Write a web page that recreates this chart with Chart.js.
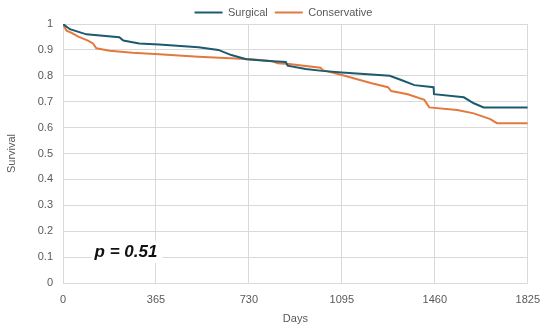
<!DOCTYPE html>
<html>
<head>
  <title>Survival</title>
  <script src="https://cdn.jsdelivr.net/npm/chart.js"></script>
  <style>
    body { margin: 0; background: #fff; }
    #wrap { width: 550px; height: 330px; }
  </style>
</head>
<body>
<div id="wrap"><canvas id="survChart" width="550" height="330"></canvas></div>

<script>
  // values
  const xTicks = [0, 365, 730, 1095, 1460, 1825];

  const surgicalDays = [0, 27, 92, 221, 237, 299, 377, 532, 610, 661, 720, 823, 875, 882, 953, 1017, 1095, 1283, 1328, 1380, 1455, 1457, 1574, 1613, 1652, 1825];
  const surgicalSurv = [1.0, 0.98, 0.96, 0.949, 0.936, 0.925, 0.921, 0.91, 0.9, 0.88, 0.864, 0.856, 0.853, 0.839, 0.826, 0.819, 0.813, 0.8, 0.784, 0.764, 0.756, 0.729, 0.717, 0.694, 0.678, 0.678];

  const conservDays = [0, 14, 34, 60, 98, 118, 131, 183, 273, 377, 532, 739, 823, 843, 888, 1011, 1020, 1095, 1212, 1276, 1289, 1354, 1419, 1438, 1548, 1613, 1678, 1704, 1825];
  const conservSurv = [1.0, 0.974, 0.966, 0.951, 0.936, 0.925, 0.906, 0.897, 0.889, 0.883, 0.874, 0.864, 0.856, 0.848, 0.846, 0.831, 0.822, 0.803, 0.771, 0.756, 0.741, 0.729, 0.707, 0.678, 0.668, 0.655, 0.633, 0.617, 0.617];

  const pLabel = 'p = 0.51';
  const pAt = { x: 124, y: 0.12 };

  function toPoints(xs, ys) {
    return xs.map((x, i) => ({ x: x, y: ys[i] }));
  }

  const gridColor = '#d9d9d9';
  const textColor = '#595959';
  const fontFamily = '"Liberation Sans", Arial, sans-serif';

  // keep the legend strip thin like the original, and nudge it right
  const legendHeight = {
    id: 'legendHeight',
    afterInit(chart) {
      const lg = chart.legend;
      if (!lg) return;
      const fit = lg.fit;
      lg.fit = function () {
        fit.call(this);
        this.height = 24;
      };
    },
    afterLayout(chart) {
      const lg = chart.legend;
      if (!lg) return;
      lg.left += 17;
      lg.right += 17;
    }
  };

  // the p value box sits on top of the grid
  const pValue = {
    id: 'pValue',
    beforeDatasetsDraw(chart) {
      const ctx = chart.ctx;
      const x = chart.scales.x.getPixelForValue(pAt.x);
      const y = chart.scales.y.getPixelForValue(pAt.y);
      ctx.save();
      ctx.font = 'italic bold 17px ' + fontFamily;
      const w = ctx.measureText(pLabel).width;
      ctx.fillStyle = '#fff';
      ctx.fillRect(x - 3, y - 11, w + 8, 22);
      ctx.fillStyle = '#111';
      ctx.textBaseline = 'middle';
      ctx.fillText(pLabel, x, y);
      ctx.restore();
    }
  };

  const ctx = document.getElementById('survChart').getContext('2d');
  new Chart(ctx, {
    type: 'line',
    data: {
      datasets: [{
        label: 'Surgical',
        data: toPoints(surgicalDays, surgicalSurv),
        borderColor: '#1c5a70',
        backgroundColor: '#1c5a70',
        borderWidth: 2,
        pointRadius: 0,
        tension: 0
      }, {
        label: 'Conservative',
        data: toPoints(conservDays, conservSurv),
        borderColor: '#e3793c',
        backgroundColor: '#e3793c',
        borderWidth: 2,
        pointRadius: 0,
        tension: 0
      }]
    },
    options: {
      responsive: false,
      animation: false,
      layout: { padding: { left: 0, right: 17, top: 0, bottom: 0 } },
      plugins: {
        legend: {
          position: 'top',
          labels: {
            usePointStyle: true,
            pointStyle: 'line',
            pointStyleWidth: 28,
            boxHeight: 11,
            padding: 7,
            color: textColor,
            font: { family: fontFamily, size: 11 }
          }
        },
        tooltip: { enabled: false }
      },
      scales: {
        x: {
          type: 'linear',
          min: 0,
          max: 1825,
          afterBuildTicks(scale) {
            scale.ticks = xTicks.map(v => ({ value: v }));
          },
          afterFit(scale) { scale.height = 47; },
          grid: { color: gridColor, drawTicks: false },
          border: { color: gridColor },
          ticks: {
            padding: 10, color: textColor, font: { family: fontFamily, size: 11 }, maxRotation: 0,
            callback: v => String(v)
          },
          title: { display: true, text: 'Days', color: textColor, font: { family: fontFamily, size: 11 }, padding: { top: 0, bottom: 4 } }
        },
        y: {
          min: 0,
          max: 1,
          afterFit(scale) { scale.width = 63; },
          grid: { color: gridColor, drawTicks: false },
          border: { display: false },
          ticks: {
            stepSize: 0.1, padding: 10, color: textColor, font: { family: fontFamily, size: 11 },
            callback: v => String(Math.round(v * 10) / 10)
          },
          title: { display: true, text: 'Survival', color: textColor, font: { family: fontFamily, size: 11 }, padding: { top: 5, bottom: 0 } }
        }
      }
    },
    plugins: [legendHeight, pValue]
  });
</script>
</body>
</html>
